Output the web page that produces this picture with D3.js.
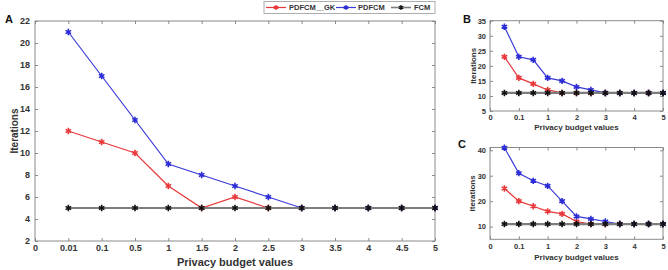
<!DOCTYPE html>
<html>
<head>
<meta charset="utf-8">
<script src="https://cdn.jsdelivr.net/npm/d3@7"></script>
<style>
  body { margin: 0; background: #fff; }
  svg { display: block; font-family: "Liberation Sans", Arial, sans-serif; }
</style>
</head>
<body>
<svg id="chart" width="668" height="270"></svg>
<script>
// categories on the x axis (shared by all three panels)
const xCats = ["0", "0.01", "0.1", "0.5", "1", "1.5", "2", "2.5", "3", "3.5", "4", "4.5", "5"]
const dataCats = xCats.slice(1)
const smallLabels = ["0", "0.1", "1", "2", "3", "4", "5"]

// panel A
const aGK = [12, 11, 10, 7, 5, 6, 5, 5, 5, 5, 5, 5]
const aPD = [21, 17, 13, 9, 8, 7, 6, 5, 5, 5, 5, 5]
const aFCM = [5, 5, 5, 5, 5, 5, 5, 5, 5, 5, 5, 5]
const aTicks = [2, 4, 6, 8, 10, 12, 14, 16, 18, 20, 22]

// panel B
const bGK = [23, 16, 14, 12, 11, 11, 11, 11, 11, 11, 11, 11]
const bPD = [33, 23, 22, 16, 15, 13, 12, 11, 11, 11, 11, 11]
const bFCM = [11, 11, 11, 11, 11, 11, 11, 11, 11, 11, 11, 11]
const bTicks = [5, 10, 15, 20, 25, 30, 35]

// panel C
const cGK = [25, 20, 18, 16, 15, 12, 11, 11, 11, 11, 11, 11]
const cPD = [41, 31, 28, 26, 20, 14, 13, 12, 11, 11, 11, 11]
const cFCM = [11, 11, 11, 11, 11, 11, 11, 11, 11, 11, 11, 11]
const cTicks = [10, 20, 30, 40]

const seriesNames = ["PDFCM__GK", "PDFCM", "FCM"]
const colors = { "PDFCM__GK": "#e8383a", "PDFCM": "#3a3ad8", "FCM": "#7d7d7d" }
const markColors = { "PDFCM__GK": "#e8383a", "PDFCM": "#2b2bd6", "FCM": "#111" }

const svg = d3.select("#chart")
const star = d3.symbol().type(d3.symbolAsterisk).size(28)
const axisColor = "#8a8a8a"
const textColor = "#333"

function panel(opt) {
  const g = svg.append("g")
  const x = d3.scalePoint().domain(xCats).range([opt.x0, opt.x1])
  const y = d3.scaleLinear().domain(opt.yDomain).range([opt.y0, opt.y1])

  // frame
  g.append("rect")
    .attr("x", opt.x0).attr("y", opt.y1)
    .attr("width", opt.x1 - opt.x0).attr("height", opt.y0 - opt.y1)
    .attr("fill", "none").attr("stroke", axisColor).attr("stroke-width", 1)

  // axes with inward ticks
  const xAxis = d3.axisBottom(x).tickValues(opt.xTickVals).tickSize(-3).tickPadding(opt.xPad)
  const xa = g.append("g").attr("transform", `translate(0,${opt.y0})`).call(xAxis)
  const xTop = g.append("g").attr("transform", `translate(0,${opt.y1})`)
    .call(d3.axisTop(x).tickValues(opt.xTickVals).tickSize(-3).tickFormat(""))
  const ya = g.append("g").attr("transform", `translate(${opt.x0},0)`)
    .call(d3.axisLeft(y).tickValues(opt.yTicks).tickSize(-3).tickPadding(opt.yPad))
  const yRight = g.append("g").attr("transform", `translate(${opt.x1},0)`)
    .call(d3.axisRight(y).tickValues(opt.yTicks).tickSize(-3).tickFormat(""))

  ;[xa, xTop, ya, yRight].forEach(a => {
    a.select(".domain").remove()
    a.selectAll(".tick line").attr("stroke", axisColor)
    a.selectAll("text")
      .attr("fill", textColor)
      .style("font-size", opt.tickFont + "px")
      .style("font-weight", "bold")
  })

  // series
  const line = d3.line().x((d, i) => x(dataCats[i])).y(d => y(d))
  opt.series.forEach((vals, k) => {
    const name = seriesNames[k]
    g.append("path")
      .attr("d", line(vals))
      .attr("fill", "none")
      .attr("stroke", colors[name])
      .attr("stroke-width", name == "FCM" ? 2.2 : 1.2)
    g.append("g").selectAll("path")
      .data(vals)
      .enter()
      .append("path")
      .attr("d", star)
      .attr("transform", (d, i) => `translate(${x(dataCats[i])},${y(d)})`)
      .attr("fill", "none")
      .attr("stroke", markColors[name])
      .attr("stroke-width", 1.6)
  })

  // titles
  g.append("text")
    .attr("x", (opt.x0 + opt.x1) / 2)
    .attr("y", opt.xTitleY)
    .attr("text-anchor", "middle")
    .attr("fill", textColor)
    .style("font-size", opt.titleFont + "px")
    .style("font-weight", "bold")
    .text("Privacy budget values")

  g.append("text")
    .attr("transform", `translate(${opt.yTitleX},${(opt.y0 + opt.y1) / 2}) rotate(-90)`)
    .attr("text-anchor", "middle")
    .attr("fill", textColor)
    .style("font-size", opt.yTitleFont + "px")
    .style("font-weight", "bold")
    .text("Iterations")

  g.append("text")
    .attr("x", opt.letterX).attr("y", opt.letterY)
    .attr("fill", "#111")
    .style("font-size", "11px")
    .style("font-weight", "bold")
    .text(opt.letter)
}

panel({
  letter: "A", letterX: 5, letterY: 23,
  x0: 35, x1: 435, y0: 241, y1: 21,
  yDomain: [2, 22], yTicks: aTicks, xTickVals: xCats,
  series: [aGK, aPD, aFCM],
  tickFont: 9, titleFont: 11, yTitleFont: 10,
  xPad: 4, yPad: 5,
  xTitleY: 266, yTitleX: 18
})

panel({
  letter: "B", letterX: 463, letterY: 23,
  x0: 490, x1: 663, y0: 111, y1: 20.7,
  yDomain: [5, 35], yTicks: bTicks, xTickVals: smallLabels,
  series: [bGK, bPD, bFCM],
  tickFont: 7.5, titleFont: 8, yTitleFont: 8,
  xPad: 4, yPad: 4,
  xTitleY: 130, yTitleX: 476
})

panel({
  letter: "C", letterX: 458, letterY: 148,
  x0: 490, x1: 663, y0: 239.3, y1: 147.5,
  yDomain: [5, 41.1], yTicks: cTicks, xTickVals: smallLabels,
  series: [cGK, cPD, cFCM],
  tickFont: 7.5, titleFont: 8, yTitleFont: 8,
  xPad: 4, yPad: 4,
  xTitleY: 260, yTitleX: 475
})

// legend
const leg = svg.append("g")
leg.append("rect")
  .attr("x", 264).attr("y", 1.5).attr("width", 171).attr("height", 12)
  .attr("fill", "#fff").attr("stroke", "#999").attr("stroke-width", 0.8)
const legItems = [
  { name: "PDFCM__GK", lx: 266, tx: 289 },
  { name: "PDFCM", lx: 336, tx: 358 },
  { name: "FCM", lx: 391, tx: 414 }
]
legItems.forEach(it => {
  leg.append("line")
    .attr("x1", it.lx).attr("x2", it.lx + 20)
    .attr("y1", 7.5).attr("y2", 7.5)
    .attr("stroke", colors[it.name])
    .attr("stroke-width", it.name == "FCM" ? 1.6 : 1.2)
  leg.append("path")
    .attr("d", d3.symbol().type(d3.symbolAsterisk).size(18)())
    .attr("transform", `translate(${it.lx + 10},7.5)`)
    .attr("fill", "none")
    .attr("stroke", markColors[it.name])
    .attr("stroke-width", 1.3)
  leg.append("text")
    .attr("x", it.tx).attr("y", 10.3)
    .attr("fill", textColor)
    .style("font-size", "7.5px")
    .style("font-weight", "bold")
    .text(it.name)
})
</script>
</body>
</html>
